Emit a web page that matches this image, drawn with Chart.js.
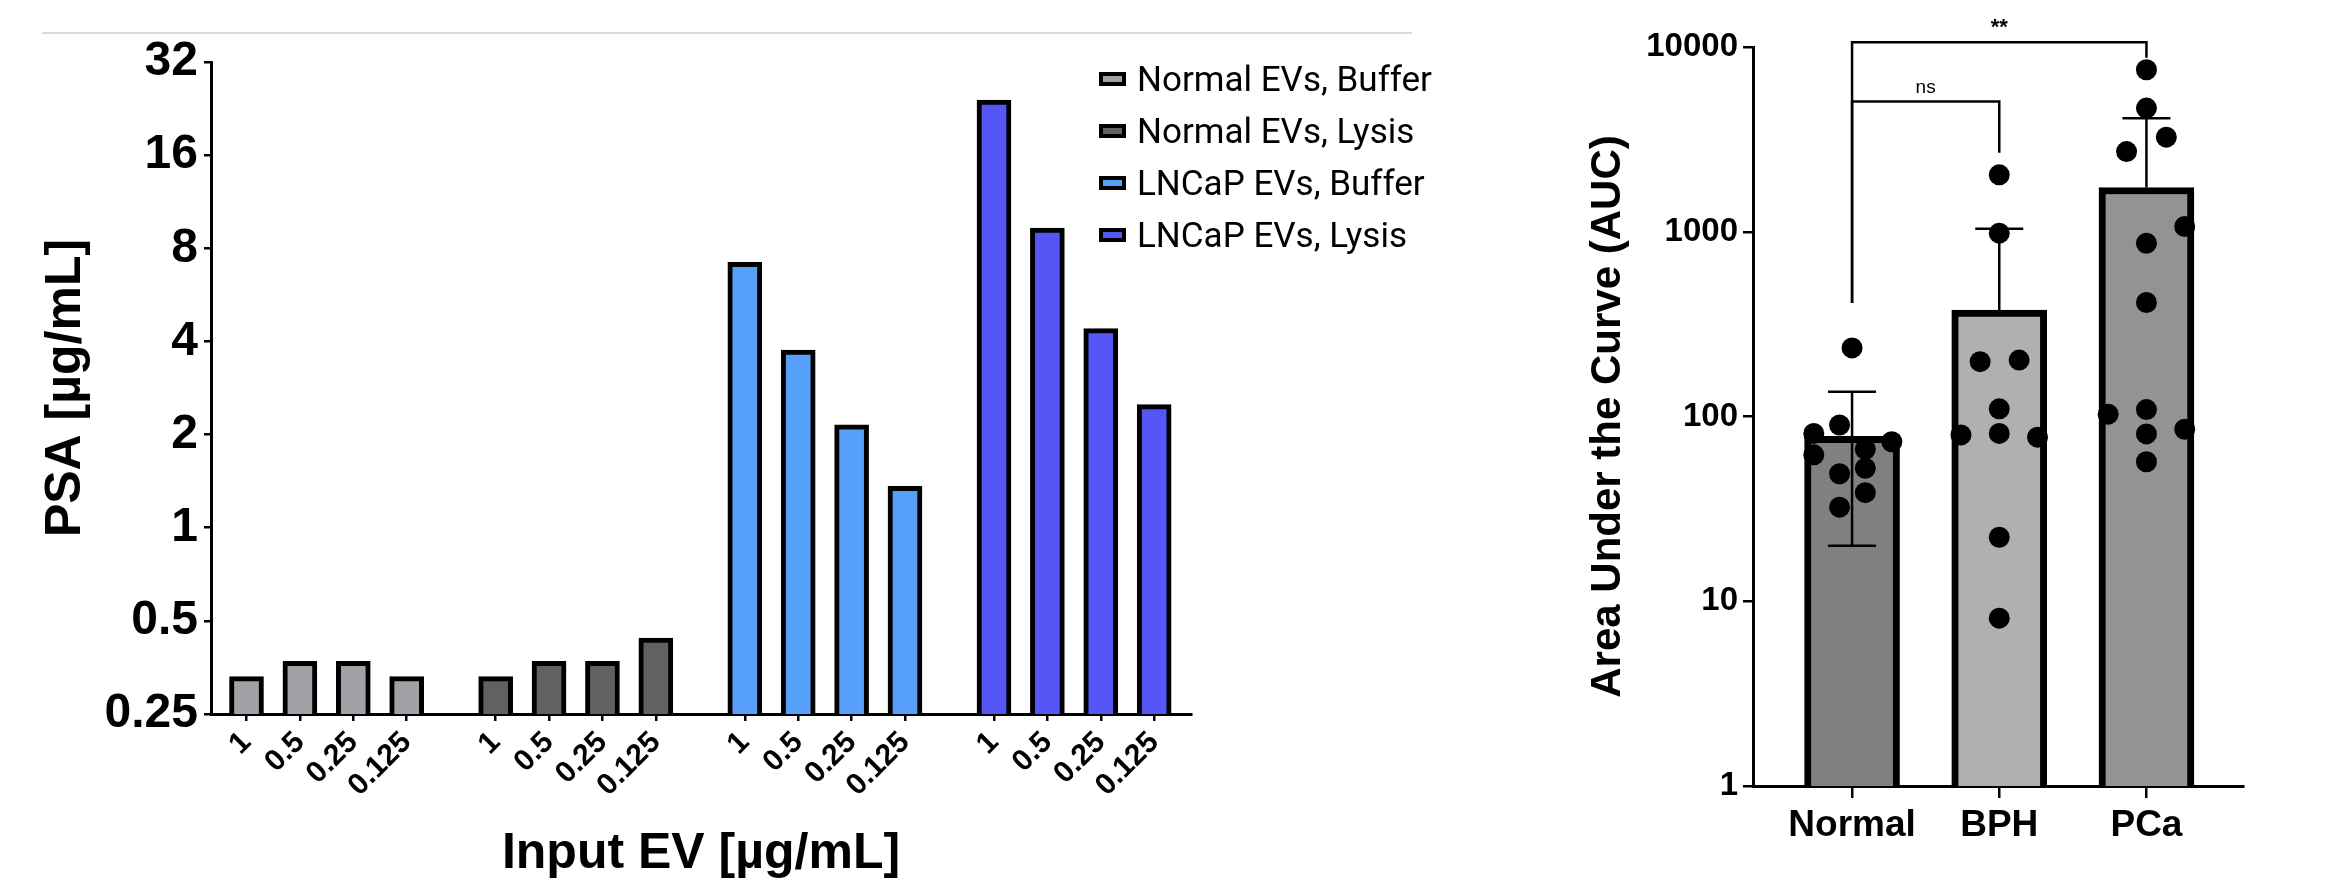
<!DOCTYPE html>
<html>
<head>
<meta charset="utf-8">
<script src="https://cdn.jsdelivr.net/npm/chart.js@4.4.1/dist/chart.umd.min.js"></script>
<style>
  body { margin: 0; width: 2326px; height: 879px; background: #fff; overflow: hidden; position: relative; }
  #rule { position: absolute; left: 42px; top: 32px; width: 1370px; height: 2px; background: #d9d9d9; }
  #psa-wrap { position: absolute; left: 0; top: 0; width: 1450px; height: 879px; }
  #auc-wrap { position: absolute; left: 1500px; top: 0; width: 826px; height: 879px; }
  #psa-legend { position: absolute; left: 1099px; top: 53px; margin: 0; padding: 0; list-style: none;
    font-family: Roboto, "Liberation Sans", sans-serif; font-size: 35px; color: #000; }
  #psa-legend li { display: flex; align-items: center; height: 52px; white-space: nowrap; }
  .swatch { width: 19px; height: 6px; border: 4px solid #000; margin-right: 11px; }
</style>
</head>
<body>
<div id="rule"></div>
<div id="psa-wrap"><canvas id="psaChart"></canvas></div>
<ul id="psa-legend"></ul>
<div id="auc-wrap"><canvas id="aucChart"></canvas></div>
<script>
// left panel: PSA vs input EV
const DOSES = ["1", "0.5", "0.25", "0.125"];
const PSA_SERIES = ["Normal EVs, Buffer", "Normal EVs, Lysis", "LNCaP EVs, Buffer", "LNCaP EVs, Lysis"];
const NORMAL_BUFFER = [0.33, 0.37, 0.37, 0.33];
const NORMAL_LYSIS = [0.33, 0.37, 0.37, 0.44];
const LNCAP_BUFFER = [7.2, 3.75, 2.15, 1.36];
const LNCAP_LYSIS = [24.1, 9.3, 4.4, 2.5];
const PSA_TICKS = [0.25, 0.5, 1, 2, 4, 8, 16, 32];

// right panel: AUC by group
const AUC_GROUPS = ["Normal", "BPH", "PCa"];
const AUC_MEAN = [78, 377, 1735];
const AUC_SD = [58, 660, 2386];
const NORMAL_AUC = [235, 90, 81, 73, 62, 66.5, 49, 52.5, 38.7, 32.3];
const NORMAL_JITTER = [0, -0.085, -0.26, 0.27, -0.26, 0.09, -0.085, 0.09, 0.09, -0.085];
const BPH_AUC = [2033, 983, 198, 202, 110, 79.5, 81, 77.3, 22.2, 8.1];
const BPH_JITTER = [0, 0, -0.13, 0.135, 0, -0.26, 0, 0.26, 0, 0];
const PCA_AUC = [7530, 4670, 3250, 2717, 1068, 867, 414, 103, 109, 85.3, 80.5, 56.9];
const PCA_JITTER = [0, 0, 0.135, -0.135, 0.26, 0, 0, -0.26, 0, 0.26, 0, 0];
const AUC_TICKS = [1, 10, 100, 1000, 10000];

document.addEventListener("DOMContentLoaded", () => {
  Chart.defaults.font.family = '"Liberation Sans", Arial, sans-serif';
  Chart.defaults.color = "#000";

  const psaValues = [NORMAL_BUFFER, NORMAL_LYSIS, LNCAP_BUFFER, LNCAP_LYSIS];
  const psaColors = ["#a0a0a6", "#616161", "#56a0f9", "#5656f6"];
  const GROUP_STEP = 14 / 3;
  const slot = (g, i) => g * GROUP_STEP + i;
  const psaTickPos = [];
  psaValues.forEach((vals, g) => vals.forEach((v, i) => psaTickPos.push(slot(g, i))));

  const legendContainer = document.getElementById("psa-legend");
  PSA_SERIES.forEach((label, index) => {
    const li = document.createElement("li");
    li.innerHTML = `<span class="swatch" style="background-color: ${psaColors[index]};"></span><span>${label}</span>`;
    legendContainer.appendChild(li);
  });

  new Chart(document.getElementById("psaChart"), {
    type: "bar",
    data: {
      datasets: psaValues.map((vals, g) => ({
        label: PSA_SERIES[g],
        data: vals.map((v, i) => ({ x: slot(g, i), y: v })),
        backgroundColor: psaColors[g],
        borderColor: "#000",
        borderWidth: 5,
        barThickness: 34,
        grouped: false,
      })),
    },
    options: {
      responsive: true,
      maintainAspectRatio: false,
      animation: false,
      layout: { padding: { top: 62, right: 259, bottom: 0, left: 0 } },
      plugins: { legend: { display: false }, tooltip: { enabled: false } },
      scales: {
        x: {
          type: "linear",
          offset: false,
          min: -0.665,
          max: 17.69,
          afterBuildTicks: (scale) => {
            scale.ticks = psaTickPos.map((v) => ({ value: v }));
          },
          afterFit: (scale) => {
            scale.height = 165;
          },
          ticks: {
            autoSkip: false,
            minRotation: 45,
            maxRotation: 45,
            padding: 4,
            font: { size: 30, weight: "bold" },
            callback: (value, index) => DOSES[index % DOSES.length],
          },
          grid: { offset: false, drawOnChartArea: false, color: "#000", lineWidth: 2.5, tickLength: 7 },
          border: { color: "#000", width: 3 },
          title: {
            display: true,
            text: "Input EV [µg/mL]",
            font: { size: 50, weight: "bold", lineHeight: 1 },
            padding: { top: 0, bottom: 0 },
          },
        },
        y: {
          type: "logarithmic",
          min: 0.25,
          max: 32,
          afterBuildTicks: (scale) => {
            scale.ticks = PSA_TICKS.map((v) => ({ value: v }));
          },
          afterFit: (scale) => {
            scale.width = 211;
          },
          ticks: { padding: 6, font: { size: 48, weight: "bold" }, callback: (value) => String(value) },
          grid: { drawOnChartArea: false, color: "#000", lineWidth: 2.5, tickLength: 7 },
          border: { color: "#000", width: 3 },
          title: {
            display: true,
            text: "PSA [µg/mL]",
            font: { size: 50, weight: "bold", lineHeight: 1 },
            padding: { top: 41, bottom: 0 },
          },
        },
      },
    },
  });

  // error bars drawn right after the bars, before the dots
  const errorBars = {
    id: "errorBars",
    afterDatasetDraw(chart, args) {
      if (args.meta.type !== "bar") return;
      const { ctx, scales: { x, y } } = chart;
      ctx.save();
      ctx.strokeStyle = "#000";
      ctx.lineWidth = 2.5;
      AUC_MEAN.forEach((m, g) => {
        const px = x.getPixelForValue(g);
        const hi = y.getPixelForValue(m + AUC_SD[g]);
        const hasLow = m - AUC_SD[g] > 0;
        const lo = y.getPixelForValue(hasLow ? m - AUC_SD[g] : m);
        ctx.beginPath();
        ctx.moveTo(px, hi);
        ctx.lineTo(px, lo);
        ctx.moveTo(px - 24, hi);
        ctx.lineTo(px + 24, hi);
        if (hasLow) {
          ctx.moveTo(px - 24, lo);
          ctx.lineTo(px + 24, lo);
        }
        ctx.stroke();
      });
      ctx.restore();
    },
  };

  // significance brackets between groups a and b, at data level "level"
  const brackets = [
    { a: 0, b: 2, level: 10600, endA: 412, endB: 8740, text: "**", font: "bold 22px 'Liberation Sans', Arial" },
    { a: 0, b: 1, level: 5070, endA: 412, endB: 2673, text: "ns", font: "19px 'Liberation Sans', Arial" },
  ];
  const significance = {
    id: "significance",
    afterDraw(chart) {
      const { ctx, scales: { x, y } } = chart;
      ctx.save();
      ctx.strokeStyle = "#000";
      ctx.fillStyle = "#000";
      ctx.lineWidth = 2.5;
      brackets.forEach((br) => {
        const xa = x.getPixelForValue(br.a);
        const xb = x.getPixelForValue(br.b);
        const yl = y.getPixelForValue(br.level);
        ctx.beginPath();
        ctx.moveTo(xa, y.getPixelForValue(br.endA));
        ctx.lineTo(xa, yl);
        ctx.lineTo(xb, yl);
        ctx.lineTo(xb, y.getPixelForValue(br.endB));
        ctx.stroke();
        ctx.font = br.font;
        ctx.textAlign = "center";
        ctx.textBaseline = "middle";
        ctx.fillText(br.text, (xa + xb) / 2, yl - 14);
      });
      ctx.restore();
    },
  };

  const dotSet = (values, jitter, g) => values.map((v, i) => ({ x: g + jitter[i], y: v }));

  new Chart(document.getElementById("aucChart"), {
    type: "bar",
    data: {
      datasets: [
        {
          type: "bar",
          label: "Mean",
          data: AUC_MEAN.map((m, g) => ({ x: g, y: m })),
          backgroundColor: ["#808080", "#b0b0b2", "#939393"],
          borderColor: "#000",
          borderWidth: 7,
          barThickness: 95,
          order: 1,
        },
        {
          type: "scatter",
          label: "Samples",
          data: [
            ...dotSet(NORMAL_AUC, NORMAL_JITTER, 0),
            ...dotSet(BPH_AUC, BPH_JITTER, 1),
            ...dotSet(PCA_AUC, PCA_JITTER, 2),
          ],
          pointRadius: 10.5,
          pointBackgroundColor: "#000",
          pointBorderWidth: 0,
          order: 0,
        },
      ],
    },
    options: {
      responsive: true,
      maintainAspectRatio: false,
      animation: false,
      layout: { padding: { top: 47, right: 83, bottom: 0, left: 0 } },
      plugins: { legend: { display: false }, tooltip: { enabled: false } },
      scales: {
        x: {
          type: "linear",
          offset: false,
          min: -0.673,
          max: 2.656,
          afterBuildTicks: (scale) => {
            scale.ticks = AUC_GROUPS.map((n, g) => ({ value: g }));
          },
          afterFit: (scale) => {
            scale.height = 93;
          },
          ticks: {
            autoSkip: false,
            maxRotation: 0,
            padding: 6,
            font: { size: 37, weight: "bold" },
            callback: (value, index) => AUC_GROUPS[index],
          },
          grid: { offset: false, drawOnChartArea: false, color: "#000", lineWidth: 2.5, tickLength: 12 },
          border: { color: "#000", width: 3 },
        },
        y: {
          type: "logarithmic",
          min: 1,
          max: 10000,
          afterBuildTicks: (scale) => {
            scale.ticks = AUC_TICKS.map((v) => ({ value: v }));
          },
          afterFit: (scale) => {
            scale.width = 253;
          },
          ticks: { padding: 5, font: { size: 33, weight: "bold" }, callback: (value) => String(value) },
          grid: { drawOnChartArea: false, color: "#000", lineWidth: 2.5, tickLength: 10 },
          border: { color: "#000", width: 3 },
          title: {
            display: true,
            text: "Area Under the Curve (AUC)",
            font: { size: 42, weight: "bold", lineHeight: 1 },
            padding: { top: 87, bottom: 0 },
          },
        },
      },
    },
    plugins: [errorBars, significance],
  });
});
</script>
</body>
</html>
